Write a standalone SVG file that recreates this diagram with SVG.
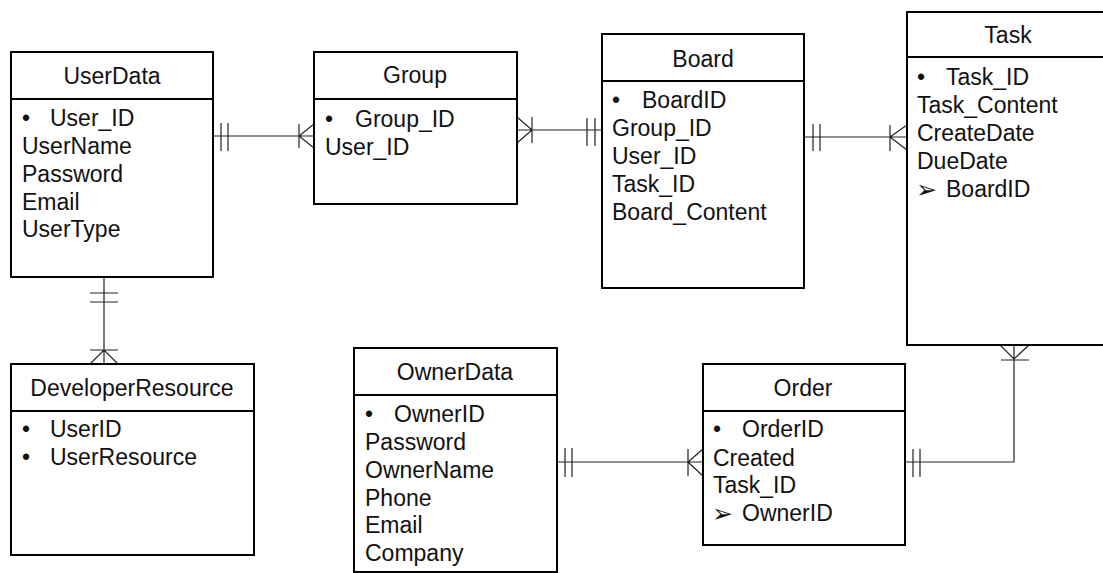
<svg xmlns="http://www.w3.org/2000/svg" width="1103" height="573" viewBox="0 0 1103 573">
<style>
.box{fill:#fff;stroke:#000;stroke-width:2}
.div{stroke:#000;stroke-width:2}
.t{font-family:"Liberation Sans",Arial,sans-serif;font-size:23px;fill:#111}
.h{text-anchor:middle}
.arr{font-family:"DejaVu Sans",sans-serif;font-size:25px;fill:#111}
.c{fill:none;stroke:#222;stroke-width:1.2}
</style>
<rect width="1103" height="573" fill="#fff"/>
<g id="connectors">
<!-- UserData - Group -->
<path class="c" d="M213,136H314M221,123V151M228,123V151M299,124V148M314,124L299,136L314,148"/>
<!-- Group - Board -->
<path class="c" d="M517,130H602M587,118V146M595,118V146M532,117V143M517,117L532,130L517,143"/>
<!-- Board - Task -->
<path class="c" d="M804,137H907M813,124V151M820,124V151M890,125V151M907,125L890,137L907,150"/>
<!-- UserData - DeveloperResource -->
<path class="c" d="M104,278V364M90,293H118M90,302H118M90,350H118M90,364L104,350L118,364"/>
<!-- OwnerData - Order -->
<path class="c" d="M557,462H703M565,448V477M572,448V477M688,449V476M703,449L688,462L703,476"/>
<!-- Task - Order -->
<path class="c" d="M1014,345V462H905M913,449V477M920,449V477M1001,360H1029M1000,345L1014,359L1029,345"/>
</g>
<g id="UserData">
<rect class="box" x="11" y="52" width="202" height="225"/>
<line class="div" x1="11" y1="99" x2="213" y2="99"/>
<text class="t h" x="112" y="84">UserData</text>
<text class="t" x="22" y="126">•</text><text class="t" x="50" y="126">User_ID</text>
<text class="t" x="22" y="154">UserName</text>
<text class="t" x="22" y="182">Password</text>
<text class="t" x="22" y="210">Email</text>
<text class="t" x="22" y="237">UserType</text>
</g>
<g id="Group">
<rect class="box" x="314" y="52" width="203" height="152"/>
<line class="div" x1="314" y1="99" x2="517" y2="99"/>
<text class="t h" x="415" y="83">Group</text>
<text class="t" x="325" y="127">•</text><text class="t" x="355" y="127">Group_ID</text>
<text class="t" x="325" y="155">User_ID</text>
</g>
<g id="Board">
<rect class="box" x="602" y="34" width="202" height="254"/>
<line class="div" x1="602" y1="81" x2="804" y2="81"/>
<text class="t h" x="703" y="67">Board</text>
<text class="t" x="612" y="108">•</text><text class="t" x="642" y="108">BoardID</text>
<text class="t" x="612" y="136">Group_ID</text>
<text class="t" x="612" y="164">User_ID</text>
<text class="t" x="612" y="192">Task_ID</text>
<text class="t" x="612" y="220">Board_Content</text>
</g>
<g id="Task">
<rect class="box" x="907" y="12" width="210" height="333"/>
<line class="div" x1="907" y1="57" x2="1110" y2="57"/>
<text class="t h" x="1008" y="43">Task</text>
<text class="t" x="917" y="85">•</text><text class="t" x="946" y="85">Task_ID</text>
<text class="t" x="917" y="113">Task_Content</text>
<text class="t" x="917" y="141">CreateDate</text>
<text class="t" x="917" y="169">DueDate</text>
<text class="arr" x="916" y="198">➢</text><text class="t" x="946" y="197">BoardID</text>
</g>
<g id="DeveloperResource">
<rect class="box" x="11" y="364" width="243" height="191"/>
<line class="div" x1="11" y1="411" x2="254" y2="411"/>
<text class="t h" x="132" y="396">DeveloperResource</text>
<text class="t" x="22" y="437">•</text><text class="t" x="50" y="437">UserID</text>
<text class="t" x="22" y="465">•</text><text class="t" x="50" y="465">UserResource</text>
</g>
<g id="OwnerData">
<rect class="box" x="354" y="348" width="203" height="224"/>
<line class="div" x1="354" y1="395" x2="557" y2="395"/>
<text class="t h" x="455" y="380">OwnerData</text>
<text class="t" x="365" y="422">•</text><text class="t" x="394" y="422">OwnerID</text>
<text class="t" x="365" y="450">Password</text>
<text class="t" x="365" y="478">OwnerName</text>
<text class="t" x="365" y="506">Phone</text>
<text class="t" x="365" y="533">Email</text>
<text class="t" x="365" y="561">Company</text>
</g>
<g id="Order">
<rect class="box" x="703" y="364" width="202" height="181"/>
<line class="div" x1="703" y1="411" x2="905" y2="411"/>
<text class="t h" x="803" y="396">Order</text>
<text class="t" x="713" y="437">•</text><text class="t" x="742" y="437">OrderID</text>
<text class="t" x="713" y="466">Created</text>
<text class="t" x="713" y="493">Task_ID</text>
<text class="arr" x="712" y="522">➢</text><text class="t" x="742" y="521">OwnerID</text>
</g>
</svg>
